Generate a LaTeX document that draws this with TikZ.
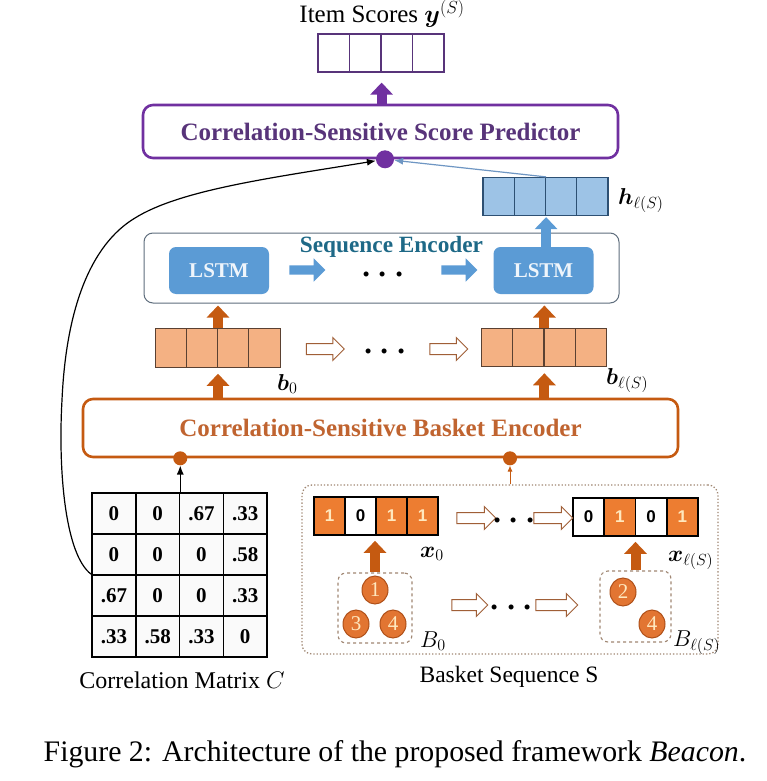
\RequirePackage{fix-cm}
\documentclass[tikz,border=0pt]{standalone}
\usepackage{amsmath}
\usepackage{amssymb}
\usepackage{fontspec}
\setmainfont{Liberation Serif}
\newfontfamily\digitsans{Liberation Sans}
\usetikzlibrary{arrows.meta}
\usetikzlibrary{shapes.geometric}
\usetikzlibrary{shapes.arrows}

\definecolor{predpurple}{RGB}{112,48,160}
\definecolor{predtext}{RGB}{88,52,122}
\definecolor{lstmblue}{RGB}{91,155,213}
\definecolor{hblue}{RGB}{157,195,230}
\definecolor{hborder}{RGB}{45,80,115}
\definecolor{seqtext}{RGB}{30,105,135}
\definecolor{seqframe}{RGB}{95,110,125}
\definecolor{encorange}{RGB}{197,90,17}
\definecolor{enctext}{RGB}{192,100,48}
\definecolor{bfill}{RGB}{244,177,131}
\definecolor{bborder}{RGB}{90,65,50}
\definecolor{xorange}{RGB}{237,125,49}
\definecolor{onecream}{RGB}{255,232,190}
\definecolor{hollowedge}{RGB}{160,95,55}
\definecolor{setframe}{RGB}{160,135,115}
\definecolor{itemfill}{RGB}{226,117,50}
\definecolor{itemedge}{RGB}{175,80,25}
\definecolor{lineblue}{RGB}{110,150,195}

\newcommand{\setfs}[1]{\fontsize{#1}{#1}\selectfont}

\tikzset{
  scorecell/.style={draw=predtext, line width=1.2pt, minimum width=31.5pt, minimum height=38pt, inner sep=0pt},
  hcell/.style={draw=hborder, fill=hblue, line width=1.2pt, minimum width=31.25pt, minimum height=38pt, inner sep=0pt},
  bcell/.style={draw=bborder, fill=bfill, line width=1pt, minimum width=31.25pt, minimum height=38.5pt, inner sep=0pt},
  xcell/.style={draw=black, line width=1.6pt, minimum width=31pt, minimum height=38pt, inner sep=0pt, font=\digitsans\bfseries\setfs{17}},
  xc1/.style={xcell, fill=xorange, text=onecream},
  xc0/.style={xcell, fill=white, text=black},
  mcell/.style={draw=black, line width=1.5pt, fill=gray!4, minimum width=43.75pt, minimum height=41pt, inner sep=0pt, font=\bfseries\setfs{21}},
  bigbox/.style={rounded corners=10pt, line width=2.6pt, minimum height=53pt, inner sep=0pt, font=\bfseries\setfs{25}},
  lstm/.style={fill=lstmblue, rounded corners=7pt, minimum width=100pt, minimum height=47pt, text=white!90!lstmblue, font=\bfseries\setfs{21}},
  hollow/.style={single arrow, draw=hollowedge, fill=white, line width=1pt, text height=10pt, text depth=0pt, inner sep=0pt, minimum width=22pt, minimum height=38pt, single arrow head extend=6pt},
  bluearrow/.style={single arrow, fill=lstmblue, text height=9pt, text depth=0pt, inner sep=0pt, minimum width=23pt, minimum height=36pt, single arrow head extend=7pt},
  fat/.style={line width=10pt, -{Triangle[length=12pt,width=22pt]}},
  thinarrow/.style={line width=1.2pt, -{Latex[length=9pt,width=7pt]}},
  item/.style={ellipse, draw=itemedge, fill=itemfill, line width=1pt, minimum width=26pt, minimum height=28pt, inner sep=0pt, text=onecream, font=\setfs{21}},
  setbox/.style={draw=setframe, dashed, line width=1.1pt, rounded corners=8pt},
  vecdots/.style={inner sep=0pt, font=\boldmath\setfs{32}},
  lbl/.style={anchor=base west, inner sep=0pt, font=\setfs{23}}
}

\begin{document}
\begin{tikzpicture}[x=1pt,y=-1pt]
\fill[white] (0,0) rectangle (767,781);
\useasboundingbox (0,0) rectangle (767,781);

% item scores
\node[anchor=base, inner sep=0pt, font=\setfs{25}] (scoretitle) at (382,23) {Item Scores $\boldsymbol{y}^{(S)}$};
\foreach \i in {1,...,4}
  \node[scorecell] (y\i) at ({318+31.5*(\i-0.5)},53) {};
\node[bigbox, draw=predpurple, text=predtext, minimum width=475pt] (pred) at (380.5,131.5) {Correlation-Sensitive Score Predictor};
\node[circle, fill=predpurple, minimum size=18pt, inner sep=0pt] (dotP) at ([xshift=4.5pt]pred.south) {};
\draw[fat, predpurple, shorten >=10pt] ([yshift=-2pt]pred.north -| y2.south east) -- (y2.south east);

% sequence encoder
\foreach \i in {1,...,4}
  \node[hcell] (h\i) at ({483+31.25*(\i-0.5)},196.5) {};
\node[lbl] (hlbl) at (618,204) {$\boldsymbol{h}_{\ell(S)}$};
\node[draw=seqframe, line width=1pt, rounded corners=9pt, minimum width=475pt, minimum height=70pt] (seqbox) at (381.5,268) {};
\node[anchor=base, inner sep=0pt, text=seqtext, font=\bfseries\setfs{23.3}] (seqtitle) at (391.5,252) {Sequence Encoder};
\node[lstm] (lstmA) at (219,270.5) {LSTM};
\node[lstm] (lstmB) at (543.5,270.5) {LSTM};
\node[bluearrow] (seqarrA) at (305,270) {};
\node[bluearrow] (seqarrB) at (457,270) {};
\node[vecdots] (seqdots) at (386,275) {$\cdots$};
\draw[fat, lstmblue, shorten >=1pt] (lstmB.north -| h2.south east) -- (h2.south east);
\draw[thinarrow, lineblue] (h2.north east) -- (dotP);

% basket vectors
\foreach \i in {1,...,4} {
  \node[bcell] (ba\i) at ({155+31.25*(\i-0.5)},348) {};
  \node[bcell] (bb\i) at ({481+31.5*(\i-0.5)},347.5) {};
}
\node[lbl] (b0lbl) at (277,390) {$\boldsymbol{b}_0$};
\node[lbl] (bllbl) at (606,384) {$\boldsymbol{b}_{\ell(S)}$};
\node[hollow] (midarrA) at (322.5,349) {};
\node[hollow] (midarrB) at (446,349) {};
\node[vecdots] (middots) at (388,352) {$\cdots$};
\draw[fat, encorange, shorten >=2pt] (ba2.north east) -- (seqbox.south -| ba2.north east);
\draw[fat, encorange, shorten >=2pt] (bb2.north east) -- (seqbox.south -| bb2.north east);

% basket encoder
\node[bigbox, draw=encorange, text=enctext, minimum width=595pt, minimum height=58pt] (enc) at (380.5,428) {Correlation-Sensitive Basket Encoder};
\draw[fat, encorange, shorten >=6pt] (enc.north -| ba2.south east) -- (ba2.south east);
\draw[fat, encorange, shorten >=6pt] (enc.north -| bb2.south east) -- (bb2.south east);

% correlation matrix
\foreach \row [count=\r] in {{0,0,.67,.33},{0,0,0,.58},{.67,0,0,.33},{.33,.58,.33,0}}
  \foreach \v [count=\c] in \row
    \node[mcell] (m\r\c) at ({92+43.75*(\c-0.5)},{493+41*(\r-0.5)}) {\v};
\node[anchor=base, inner sep=0pt, font=\setfs{24}] (mattitle) at (182,688) {Correlation Matrix $C$};
\node[circle, fill=encorange, minimum size=14pt, inner sep=0pt] (dotL) at (enc.south -| m12.north east) {};
\draw[thinarrow] (m12.north east) -- (dotL);
\draw[thinarrow] (m31.north west) .. controls (65,555) and (58,470) .. (62,400)
  .. controls (66,310) and (90,245) .. (135,218)
  .. controls (180,190) and (270,178) .. (dotP);

% basket sequence
\node[draw=setframe, dotted, line width=1.3pt, rounded corners=10pt, minimum width=416pt, minimum height=169pt] (bseq) at (510,569.5) {};
\node[circle, fill=encorange, minimum size=14pt, inner sep=0pt] (dotR) at (enc.south -| bseq.north) {};
\draw[encorange, line width=1pt, -{Latex[length=6pt,width=5pt]}] (bseq.north) -- (dotR);
\foreach \v [count=\i] in {1,0,1,1}
  \node[xc\v] (xa\i) at ({314+31*(\i-0.5)},516) {\v};
\foreach \v [count=\i] in {0,1,0,1}
  \node[xc\v] (xb\i) at ({573+31.25*(\i-0.5)},517) {\v};
\node[lbl] (x0lbl) at (420,557) {$\boldsymbol{x}_0$};
\node[lbl] (xllbl) at (668,561) {$\boldsymbol{x}_{\ell(S)}$};
\node[hollow, minimum height=39pt] (toparrA) at (473.5,518) {};
\node[hollow, minimum height=39pt] (toparrB) at (550.5,518) {};
\node[vecdots] (topdots) at (517,521) {$\cdots$};

\node[setbox, minimum width=74pt, minimum height=70pt] (setA) at (375,608) {};
\node[setbox, minimum width=71pt, minimum height=71pt] (setB) at (635.5,606.5) {};
\node[item] (itA1) at (375,590) {1};
\node[item] (itA3) at (356,624) {3};
\node[item] (itA4) at (393,624) {4};
\node[item] (itB2) at (623,592) {2};
\node[item] (itB4) at (652,624) {4};
\node[lbl] (B0lbl) at (420,647) {$B_0$};
\node[lbl] (Bllbl) at (673,646) {$B_{\ell(S)}$};
\node[hollow, minimum height=36pt] (botarrA) at (467,605) {};
\node[hollow, minimum height=42pt] (botarrB) at (554,605) {};
\node[vecdots] (botdots) at (514.5,608) {$\cdots$};
\draw[fat, encorange, shorten >=5pt] (setA.north) -- (setA.north |- xa2.south);
\draw[fat, encorange, shorten >=5pt] (setB.north) -- (setB.north |- xb2.south);
\node[anchor=base, inner sep=0pt, font=\setfs{23.5}] (bseqtitle) at (509,682) {Basket Sequence S};

% caption
\node[anchor=base, inner sep=0pt, font=\setfs{29.8}] (caption) at (395,761) {Figure 2: Architecture of the proposed framework \textit{Beacon}.};
\end{tikzpicture}
\end{document}
